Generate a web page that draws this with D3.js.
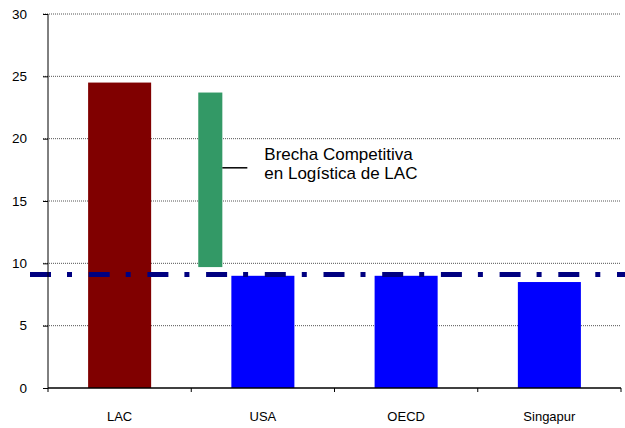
<!doctype html>
<html lang="es">
<head>
<meta charset="UTF-8">
<title>Brecha Competitiva</title>
<style>
  body { margin: 0; background: #fff; }
  svg text { font-family: Arial, "Liberation Sans", sans-serif; fill: #000; }
</style>
</head>
<body>
<svg id="chart" width="625" height="428"></svg>
<script src="https://d3js.org/d3.v7.min.js"></script>
<script>
// data
const categories = ["LAC", "USA", "OECD", "Singapur"];
const values = [24.5, 9.0, 9.0, 8.5];
const barColors = ["#800000", "#0000ff", "#0000ff", "#0000ff"];
const gapLow = 9.7, gapHigh = 23.7;
const refLevel = 9.1;
const yTicks = [0, 5, 10, 15, 20, 25, 30];
const gapLabel = ["Brecha Competitiva", "en Logística de LAC"];

let margin = {top: 14, right: 4, bottom: 40, left: 48},
    width = 625 - margin.left - margin.right,
    height = 428 - margin.top - margin.bottom;

let svg = d3.select("#chart")
    .append("g")
    .attr("transform", `translate(${margin.left},${margin.top})`);

let x = d3.scaleBand().domain(categories).range([0, width]);
let y = d3.scaleLinear().domain([0, 30]).range([height, 0]);
let barW = x.bandwidth() * 0.44;

// gridlines
svg.append("g")
    .selectAll("line")
    .data(yTicks.filter(d => d > 0))
    .enter().append("line")
    .attr("x1", -5).attr("x2", width)
    .attr("y1", d => y(d)).attr("y2", d => y(d))
    .attr("stroke", "#555")
    .attr("stroke-width", 1)
    .attr("stroke-dasharray", "1,1");

// bars
svg.selectAll(".bar")
    .data(categories)
    .enter().append("rect")
    .attr("class", "bar")
    .attr("x", d => x(d) + (x.bandwidth() - barW) / 2)
    .attr("width", barW)
    .attr("y", (d, i) => y(values[i]))
    .attr("height", (d, i) => y(0) - y(values[i]))
    .attr("fill", (d, i) => barColors[i]);

// floating gap bar between LAC and USA
let gapW = x.bandwidth() * 0.168;
let gapX = x("USA") + x.bandwidth() * 0.133 - gapW / 2;
svg.append("rect")
    .attr("x", gapX)
    .attr("width", gapW)
    .attr("y", y(gapHigh))
    .attr("height", y(gapLow) - y(gapHigh))
    .attr("fill", "#339966");

// label connector
let midY = y((gapLow + gapHigh) / 2);
svg.append("line")
    .attr("x1", gapX + gapW).attr("x2", gapX + gapW + 25)
    .attr("y1", midY - 12).attr("y2", midY - 12)
    .attr("stroke", "#000").attr("stroke-width", 1.5);

svg.append("text")
    .attr("x", gapX + gapW + 42)
    .attr("y", midY - 20)
    .attr("font-size", "17px")
    .selectAll("tspan")
    .data(gapLabel)
    .enter().append("tspan")
    .attr("x", gapX + gapW + 42)
    .attr("dy", (d, i) => i === 0 ? 0 : 19)
    .text(d => d);

// reference dash-dot line
svg.append("line")
    .attr("x1", -18).attr("x2", width + 4)
    .attr("y1", y(refLevel)).attr("y2", y(refLevel))
    .attr("stroke", "#000080")
    .attr("stroke-width", 5)
    .attr("stroke-dasharray", "21,16,5,16.7");

// y axis
let yAxis = svg.append("g")
    .call(d3.axisLeft(y).tickValues(yTicks).tickSize(5).tickPadding(16));
yAxis.select(".domain").attr("d", `M0,${height}V0`).attr("stroke", "#000");
yAxis.selectAll(".tick line").attr("stroke", "#000");
yAxis.selectAll("text").attr("font-size", "13.5px").attr("font-family", "Arial, Liberation Sans, sans-serif");

// x axis with ticks at band boundaries
let xAxis = svg.append("g")
    .attr("transform", `translate(0,${height})`);
xAxis.append("line")
    .attr("x1", 0).attr("x2", width)
    .attr("stroke", "#000").attr("stroke-width", 1.5);
xAxis.selectAll(".xtick")
    .data(categories.concat(["end"]))
    .enter().append("line")
    .attr("class", "xtick")
    .attr("x1", (d, i) => i < categories.length ? x(d) : width)
    .attr("x2", (d, i) => i < categories.length ? x(d) : width)
    .attr("y1", 0).attr("y2", 4)
    .attr("stroke", "#000");
xAxis.selectAll(".xlabel")
    .data(categories)
    .enter().append("text")
    .attr("class", "xlabel")
    .attr("x", d => x(d) + x.bandwidth() / 2)
    .attr("y", 33)
    .attr("text-anchor", "middle")
    .attr("font-size", "13px")
    .text(d => d);
</script>
</body>
</html>
